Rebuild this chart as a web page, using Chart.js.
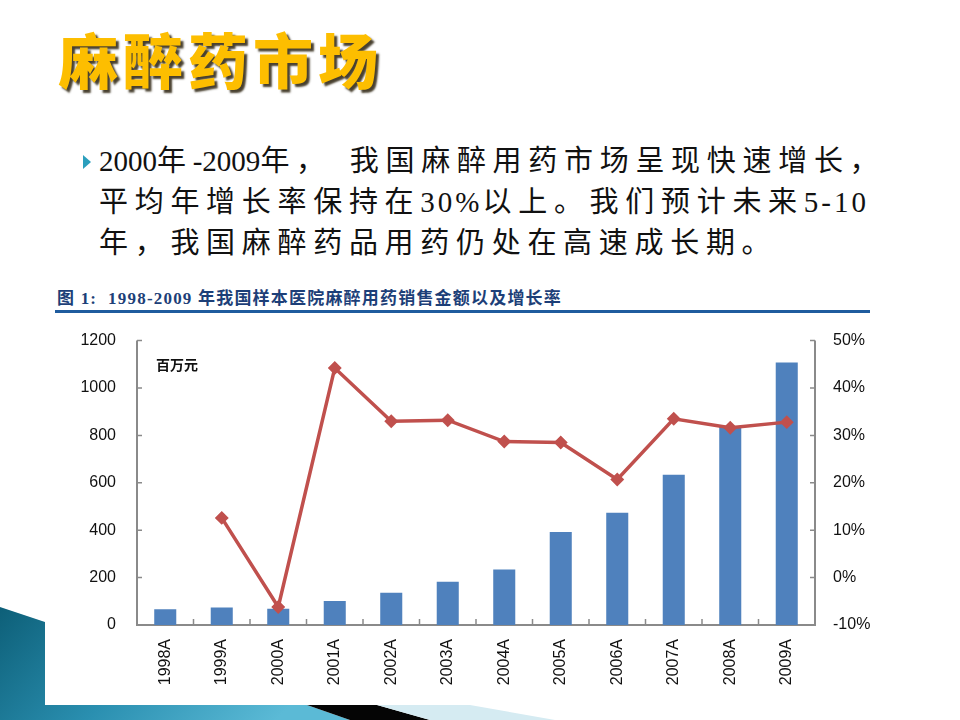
<!DOCTYPE html>
<html>
<head>
<meta charset="utf-8">
<script src="https://cdn.jsdelivr.net/npm/chart.js@4.4.1/dist/chart.umd.min.js"></script>
<style>
  html,body{margin:0;padding:0;background:#fff;}
  #slide{position:relative;width:960px;height:720px;overflow:hidden;background:#fff;
    font-family:"Liberation Serif","Noto Sans CJK SC",serif;}
  #title{position:absolute;left:58px;top:20px;font-family:"Noto Sans CJK SC",sans-serif;font-weight:900;
    font-size:60px;letter-spacing:5px;color:#FDBE00;line-height:76px;
    text-shadow:3px 3px 2px rgba(40,30,10,.85);}
  .bullet{position:absolute;left:83px;top:155px;width:0;height:0;border-top:7px solid transparent;
    border-bottom:7px solid transparent;border-left:8px solid #2b9fbd;}
  .ln{position:absolute;left:99px;font-size:29px;letter-spacing:6.7px;color:#111;line-height:40px;white-space:nowrap;}
  .ln .n{letter-spacing:0;}
  .ln .m{letter-spacing:3px;}
  .ln .w{margin-right:18px;}
  #cap{position:absolute;left:57px;top:284px;font-size:17px;letter-spacing:1.2px;font-weight:bold;color:#1d3f78;white-space:nowrap;}
  #rule{position:absolute;left:55px;top:310px;width:815px;height:3px;background:#1f5c9e;}
  #wrap{position:absolute;left:40px;top:310px;width:870px;height:405px;}
  #deco{position:absolute;left:0;top:0;}
</style>
</head>
<body>
<div id="slide">
  <div id="title">麻醉药市场</div>
  <div class="bullet"></div>
  <div class="ln" style="top:141px"><span class="n">2000</span>年<span class="n">-2009</span>年<span class="w">，</span>我国麻醉用药市场呈现快速增长，</div>
  <div class="ln" style="top:182px">平均年增长率保持在<span class="m">30%</span>以上。我们预计未来<span class="m">5-10</span></div>
  <div class="ln" style="top:223px">年，我国麻醉药品用药仍处在高速成长期。</div>
  <div id="cap">图 1:&nbsp; 1998-2009 年我国样本医院麻醉用药销售金额以及增长率</div>
  <div id="rule"></div>
  <svg id="deco" width="960" height="720">
    <defs>
      <linearGradient id="teal" x1="0" y1="0" x2="1" y2="0.3">
        <stop offset="0" stop-color="#0d5f78"/>
        <stop offset="0.5" stop-color="#2a8fb0"/>
        <stop offset="1" stop-color="#5bbad6"/>
      </linearGradient>
    </defs>
    <polygon points="0,607 45,622 45,705 307,705 350,720 0,720" fill="url(#teal)"/>
    <polygon points="307,705 377,705 430,720 350,720" fill="#050505"/>
    <polygon points="377,705 470,705 555,720 430,720" fill="#d5ebf2"/>
  </svg>
  <div id="wrap"><canvas id="salesChart"></canvas></div>
</div>
<script>
/* ── DATA ─────────────────────────────────────────── */
const years  = ['1998A','1999A','2000A','2001A','2002A','2003A','2004A','2005A','2006A','2007A','2008A','2009A'];
const sales  = [66, 74, 69, 101, 136, 182, 234, 392, 474, 634, 839, 1108];   // 百万元
const growth = [null, 12.6, -6.2, 44.2, 33.0, 33.2, 28.7, 28.5, 20.7, 33.5, 31.6, 32.8]; // %
const leftTicks  = {min:0,   max:1200, step:200};
const rightTicks = {min:-10, max:50,   step:10};

/* ── AXES: grey lines with inward ticks, unit label ──── */
const axisPlugin = {
  id:'axisPlugin',
  beforeDatasetsDraw(chart){
    const {ctx, chartArea:a, scales} = chart;
    ctx.save();
    ctx.strokeStyle = '#8a8a8a';
    ctx.lineWidth = 2;
    ctx.beginPath();
    ctx.moveTo(a.left, a.top); ctx.lineTo(a.left, a.bottom); ctx.lineTo(a.right, a.bottom); ctx.lineTo(a.right, a.top);
    ctx.stroke();
    ctx.lineWidth = 1.5;
    ctx.beginPath();
    scales.y.ticks.forEach(t=>{ const y = scales.y.getPixelForValue(t.value); ctx.moveTo(a.left, y); ctx.lineTo(a.left+5, y); });
    scales.y1.ticks.forEach(t=>{ const y = scales.y1.getPixelForValue(t.value); ctx.moveTo(a.right, y); ctx.lineTo(a.right-5, y); });
    for(let i=0;i<years.length-1;i++){
      const x = (scales.x.getPixelForValue(i)+scales.x.getPixelForValue(i+1))/2;
      ctx.moveTo(x, a.bottom); ctx.lineTo(x, a.bottom-6);
    }
    ctx.stroke();
    ctx.fillStyle = '#111';
    ctx.font = 'bold 14px "Noto Sans CJK SC", sans-serif';
    ctx.textBaseline = 'middle';
    ctx.fillText('百万元', a.left+19, a.top+24);
    ctx.restore();
  }
};

const tickFont = {family:'"Liberation Sans", Arial, sans-serif', size:16};

new Chart(document.getElementById('salesChart'), {
  data:{
    labels: years,
    datasets:[
      { type:'line', label:'增长率', data:growth, yAxisID:'y1', order:0,
        borderColor:'#C0504D', backgroundColor:'#C0504D', borderWidth:3.5, tension:0,
        pointStyle:'rectRot', pointRadius:4.5, pointBackgroundColor:'#C0504D', pointBorderColor:'#C0504D' },
      { type:'bar', label:'销售金额', data:sales, yAxisID:'y', order:1,
        backgroundColor:'#4F81BD', barPercentage:0.39, categoryPercentage:1 }
    ]
  },
  options:{
    responsive:true, maintainAspectRatio:false, animation:false,
    layout:{padding:{top:0, left:0, right:0, bottom:0}},
    plugins:{legend:{display:false}, tooltip:{enabled:false}},
    scales:{
      x:{ grid:{display:false, drawTicks:false}, border:{display:false},
          ticks:{color:'#111', font:tickFont, minRotation:90, maxRotation:90, padding:14, autoSkip:false},
          afterFit(s){ s.height = 90; } },
      y:{ position:'left', min:leftTicks.min, max:leftTicks.max,
          grid:{display:false, drawTicks:false}, border:{display:false},
          ticks:{stepSize:leftTicks.step, color:'#111', font:tickFont, padding:21, callback:v=>String(v)},
          afterFit(s){ s.width = 97; } },
      y1:{ position:'right', min:rightTicks.min, max:rightTicks.max,
          grid:{display:false, drawTicks:false}, border:{display:false},
          ticks:{stepSize:rightTicks.step, color:'#111', font:tickFont, padding:18, callback:v=>v+'%'},
          afterFit(s){ s.width = 95; } }
    }
  },
  plugins:[axisPlugin]
});
</script>
</body>
</html>
